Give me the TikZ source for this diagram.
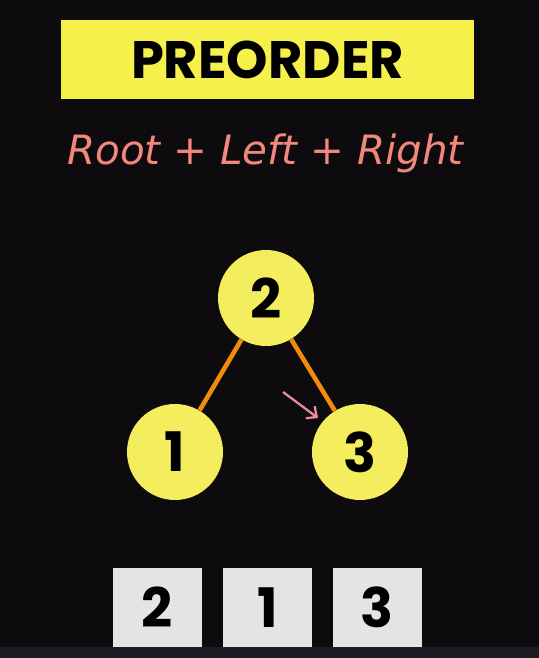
\documentclass[tikz,border=0pt]{standalone}
\usepackage{fontspec}
\newfontfamily\headfont{Poppins}
\newfontfamily\handfont{DejaVu Sans}
\usetikzlibrary{arrows.meta,calc}
\definecolor{bgdark}{HTML}{0D0B0D}
\definecolor{bgstrip}{HTML}{1B1D25}
\definecolor{titleyel}{HTML}{F6F04C}
\definecolor{nodeyel}{HTML}{F4EE5E}
\definecolor{edgeor}{HTML}{F28A0C}
\definecolor{salmon}{HTML}{F2877C}
\definecolor{pointer}{HTML}{E98C9C}
\definecolor{cellgray}{HTML}{E4E4E4}
\tikzset{
  banner/.style={fill=titleyel,minimum width=8.26cm,minimum height=1.58cm,inner sep=0pt},
  rule/.style={font=\handfont\itshape\fontsize{23}{28}\selectfont,text=salmon},
  tnode/.style={circle,fill=nodeyel,minimum size=1.92cm,inner sep=0pt,
    font=\headfont\bfseries\fontsize{31}{31}\selectfont},
  tedge/.style={line width=2.6pt,edgeor},
  hint/.style={line width=1.3pt,pointer,-{Straight Barb[length=1.6mm,width=3mm]}},
  cell/.style={fill=cellgray,minimum width=1.78cm,minimum height=1.58cm,inner sep=0pt,
    font=\headfont\bfseries\fontsize{31}{31}\selectfont},
}
\begin{document}
\begin{tikzpicture}
    % ---------- backdrop ----------
    \fill[bgdark] (0,0) rectangle (10.78,13.16);
    \fill[bgstrip] (0,0) rectangle (10.78,0.22);
    \useasboundingbox (0,0) rectangle (10.78,13.16);
    % ---------- heading ----------
    \node[banner] (title) at (5.35,11.97) {\headfont\bfseries\fontsize{30}{30}\selectfont PREORDER};
    \node[rule,anchor=base] (order) at (5.31,9.86) {Root + Left + Right};
    % ---------- tree ----------
    \node[tnode] (n2) at (5.32,7.2) {2};
    \node[tnode] (n1) at (3.5,4.12) {1};
    \node[tnode] (n3) at (7.2,4.12) {3};
    \draw[tedge] (n2) -- (n1);
    \draw[tedge] (n2) -- (n3);
    % pointer towards the right child
    \coordinate (h0) at (5.66,5.32);
    \coordinate (h1) at (6.36,4.8);
    \draw[hint] (h0) -- (h1);
    % ---------- visiting order ----------
    \node[cell] (c1) at (3.15,1.01) {2};
    \node[cell] (c2) at (5.35,1.01) {1};
    \node[cell] (c3) at (7.54,1.01) {3};
\end{tikzpicture}
\end{document}
